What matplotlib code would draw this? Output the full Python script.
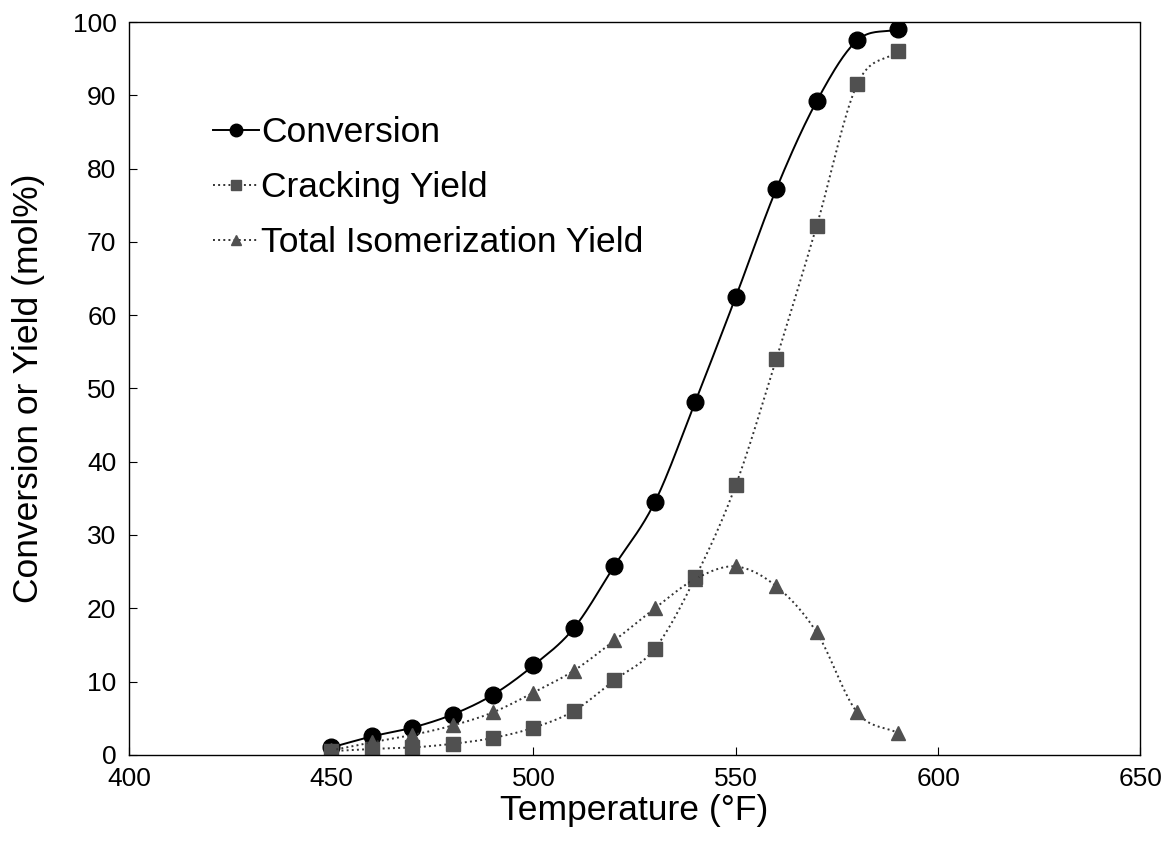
import numpy as np
import matplotlib
matplotlib.use("Agg")
import matplotlib.pyplot as plt

plt.rcParams['font.family'] = ['Liberation Sans', 'DejaVu Sans']

# data
temperature = [450, 460, 470, 480, 490, 500, 510, 520, 530, 540, 550, 560, 570, 580, 590]
conversion = [1.0, 2.5, 3.7, 5.5, 8.2, 12.2, 17.3, 25.8, 34.5, 48.2, 62.5, 77.2, 89.2, 97.5, 99.0]
cracking = [0.5, 0.8, 1.0, 1.5, 2.3, 3.7, 6.0, 10.2, 14.5, 24.2, 36.8, 54.0, 72.2, 91.5, 96.0]
isomerization = [0.6, 1.7, 2.7, 4.0, 5.8, 8.5, 11.5, 15.6, 20.0, 24.0, 25.7, 23.0, 16.7, 5.8, 3.0]
labels = ['Conversion', 'Cracking Yield', 'Total Isomerization Yield']


# smooth line through the points (like the spreadsheet "smoothed line")
def smooth(x, y, n=20):
    x = np.asarray(x, float)
    y = np.asarray(y, float)
    px = np.concatenate([[2 * x[0] - x[1]], x, [2 * x[-1] - x[-2]]])
    py = np.concatenate([[2 * y[0] - y[1]], y, [2 * y[-1] - y[-2]]])
    xs, ys = [], []
    t = np.linspace(0, 1, n, endpoint=False)
    for i in range(1, len(px) - 2):
        p0, p1, p2, p3 = (np.array([px[j], py[j]]) for j in range(i - 1, i + 3))
        c1 = p1 + (p2 - p0) / 6
        c2 = p2 - (p3 - p1) / 6
        pts = ((1 - t) ** 3)[:, None] * p1 + (3 * (1 - t) ** 2 * t)[:, None] * c1 \
            + (3 * (1 - t) * t ** 2)[:, None] * c2 + (t ** 3)[:, None] * p2
        xs.extend(pts[:, 0])
        ys.extend(pts[:, 1])
    xs.append(x[-1])
    ys.append(y[-1])
    return xs, ys


fig = plt.figure(figsize=(11.72, 8.5), dpi=100)
ax = fig.add_axes([0.110, 0.112, 0.863, 0.862])

grey = '#505050'
styles = [
    dict(data=conversion, ls='-', lw=1.4, color='black', marker='o', ms=12, mfc='black', mec='black'),
    dict(data=cracking, ls=':', lw=1.4, color='#333333', marker='s', ms=10.5, mfc=grey, mec=grey),
    dict(data=isomerization, ls=':', lw=1.4, color='#333333', marker='^', ms=10, mfc=grey, mec=grey),
]

handles = []
for st, lab in zip(styles, labels):
    sx, sy = smooth(temperature, st['data'])
    ax.plot(sx, sy, ls=st['ls'], lw=st['lw'], color=st['color'])
    ax.plot(temperature, st['data'], ls='none', marker=st['marker'], ms=st['ms'],
            mfc=st['mfc'], mec=st['mec'])
    h, = ax.plot([], [], ls=st['ls'], lw=st['lw'], color=st['color'], marker=st['marker'],
                 ms=st['ms'] * 0.75, mfc=st['mfc'], mec=st['mec'])
    handles.append(h)

ax.set_xlim(400, 650)
ax.set_ylim(0, 100)
ax.set_xticks(range(400, 651, 50))
ax.set_yticks(range(0, 101, 10))
ax.tick_params(direction='in', length=6, labelsize=19, pad=9)
for s in ax.spines.values():
    s.set_linewidth(1.0)
    s.set_linestyle((0, (2, 1)))

ax.set_xlabel('Temperature (°F)', fontsize=25.5, labelpad=2)
ax.set_ylabel('Conversion or Yield (mol%)', fontsize=25.5, labelpad=20)

ax.legend(handles, labels, loc='upper left', bbox_to_anchor=(0.066, 0.896), frameon=False,
          fontsize=25.5, handlelength=1.3, handletextpad=0.05, labelspacing=0.62,
          borderpad=0)

fig.savefig('out.png', dpi=100)
